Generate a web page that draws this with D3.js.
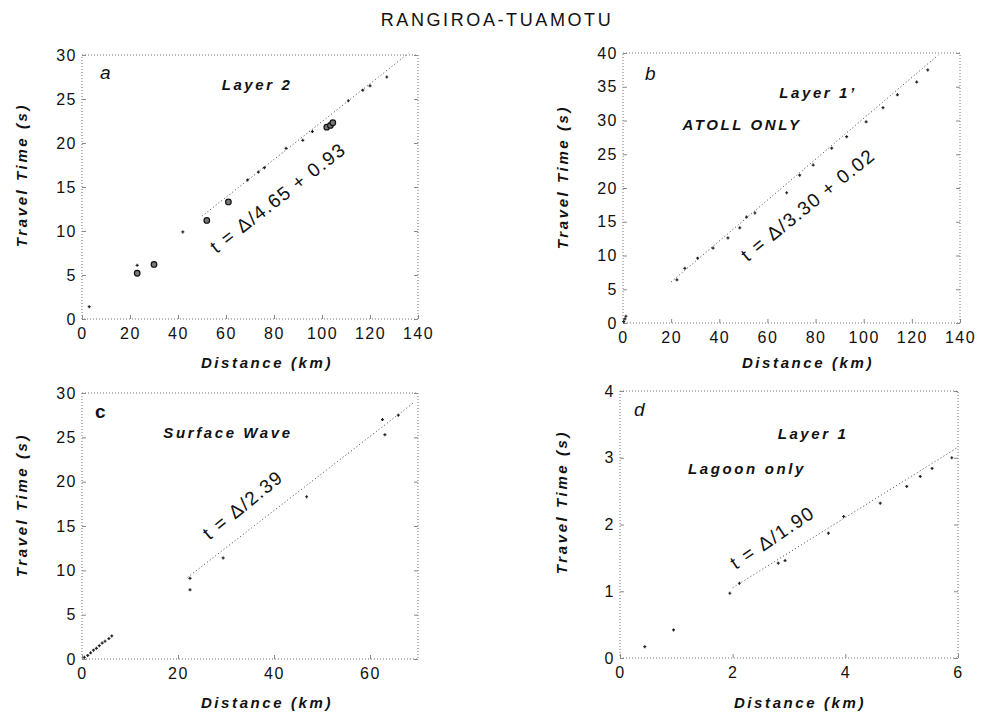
<!DOCTYPE html>
<html>
<head>
<meta charset="utf-8">
<script src="https://cdn.jsdelivr.net/npm/d3@7"></script>
<style>
  body { margin: 0; background: #fff; }
  svg text { font-family: "Liberation Sans", Arial, sans-serif; fill: #111; }
  .tick text { font-size: 16px; letter-spacing: 1.5px; }
  .ttl { font-weight: bold; font-style: italic; font-size: 15px; letter-spacing: 2.6px; }
  .lbl { font-weight: bold; font-style: italic; font-size: 15px; letter-spacing: 2.6px; }
  .eq { font-size: 19px; letter-spacing: 1.5px; }
</style>
</head>
<body>
<div id="graph"></div>
<script>
"use strict";

// panel a : Layer 2
const aDist = [3, 23, 23, 30, 42, 52, 61, 69, 73.5, 76, 85, 92, 96, 102, 103.5, 104.5, 111, 117, 120, 127];
const aTime = [1.4, 5.2, 6.1, 6.2, 9.9, 11.2, 13.3, 15.8, 16.7, 17.2, 19.4, 20.3, 21.3, 21.8, 22.0, 22.3, 24.8, 26.0, 26.5, 27.5];
const aMark = ["+", "o", "+", "o", "+", "o", "o", "+", "+", "+", "+", "+", "+", "o", "o", "o", "+", "+", "+", "+"];

// panel b : Layer 1' atoll only
const bDist = [0.3, 0.8, 1.2, 22.4, 25.7, 31, 37.4, 43.6, 48.5, 51.3, 54.8, 68, 73.4, 79, 86.7, 92.9, 101, 108, 114, 122, 126.6];
const bTime = [0.2, 0.6, 1.0, 6.4, 8.1, 9.6, 11.1, 12.6, 14.1, 15.7, 16.3, 19.3, 21.9, 23.4, 25.9, 27.6, 29.8, 31.9, 33.8, 35.7, 37.5];

// panel c : surface wave
const cDist = [0.5, 1.2, 1.8, 2.4, 3.0, 3.6, 4.2, 4.8, 5.6, 6.2, 22.5, 22.5, 29.4, 46.8, 62.6, 63.1, 65.9];
const cTime = [0.2, 0.4, 0.7, 1.0, 1.2, 1.5, 1.8, 2.0, 2.3, 2.6, 7.8, 9.1, 11.4, 18.3, 27.0, 25.3, 27.5];

// panel d : Layer 1 lagoon only
const dDist = [0.44, 0.95, 1.95, 2.12, 2.81, 2.93, 3.70, 3.97, 4.62, 5.09, 5.33, 5.54, 5.89];
const dTime = [0.17, 0.42, 0.97, 1.12, 1.42, 1.46, 1.87, 2.12, 2.32, 2.57, 2.72, 2.84, 3.0];

const xTicksA = [0, 20, 40, 60, 80, 100, 120, 140];
const yTicksA = [0, 5, 10, 15, 20, 25, 30];
const yTicksB = [0, 5, 10, 15, 20, 25, 30, 35, 40];
const xTicksC = [0, 20, 40, 60];
const xTicksD = [0, 2, 4, 6];
const yTicksD = [0, 1, 2, 3, 4];

(function() {
    const W = 994, H = 712;

    window.addEventListener("load", init);

    function init() {
        let svg = d3.select("#graph")
                    .append("svg")
                        .attr("width", W)
                        .attr("height", H);

        svg.append("text")
            .attr("x", 497).attr("y", 26)
            .attr("text-anchor", "middle")
            .style("font-size", "18px")
            .style("letter-spacing", "2.6px")
            .text("RANGIROA-TUAMOTU");

        panel(svg, {
            x0: 82, x1: 418, y0: 319, y1: 55,
            xDom: [0, 140], yDom: [0, 30], xTicks: xTicksA, yTicks: yTicksA,
            dist: aDist, time: aTime, mark: aMark,
            fit: [50, 136], vel: 4.65, icpt: 0.93,
            letter: "a", lx: 100, ly: 79,
            notes: [{t: "Layer 2", x: 257, y: 90}],
            eq: "t = \u0394/4.65 + 0.93", ex: 282, ey: 203, ang: -38,
            xt: [267, 368], yt: [22, 175]
        });
        panel(svg, {
            x0: 623, x1: 960, y0: 323, y1: 53,
            xDom: [0, 140], yDom: [0, 40], xTicks: xTicksA, yTicks: yTicksB,
            dist: bDist, time: bTime,
            fit: [20, 131], vel: 3.30, icpt: 0.02,
            letter: "b", lx: 645, ly: 80,
            notes: [{t: "Layer 1\u2019", x: 818, y: 98}, {t: "ATOLL ONLY", x: 742, y: 130}],
            eq: "t = \u0394/3.30 + 0.02", ex: 812, ey: 210, ang: -39,
            xt: [808, 368], yt: [563, 177]
        });
        panel(svg, {
            x0: 82, x1: 418, y0: 659, y1: 393,
            xDom: [0, 70], yDom: [0, 30], xTicks: xTicksC, yTicks: yTicksA,
            dist: cDist, time: cTime,
            fit: [22, 69], vel: 2.39, icpt: 0,
            letter: "c", lx: 95, ly: 418, upright: true,
            notes: [{t: "Surface Wave", x: 228, y: 438}],
            eq: "t = \u0394/2.39", ex: 247, ey: 510, ang: -39,
            xt: [267, 708], yt: [22, 505]
        });
        panel(svg, {
            x0: 620, x1: 958, y0: 658, y1: 391,
            xDom: [0, 6], yDom: [0, 4], xTicks: xTicksD, yTicks: yTicksD,
            dist: dDist, time: dTime,
            fit: [2, 6], vel: 1.90, icpt: 0,
            letter: "d", lx: 634, ly: 416,
            notes: [{t: "Layer 1", x: 813, y: 439}, {t: "Lagoon only", x: 747, y: 474}],
            eq: "t = \u0394/1.90", ex: 776, ey: 543, ang: -34,
            xt: [800, 708], yt: [562, 502]
        });
    }

    function panel(svg, p) {
        let x = d3.scaleLinear().domain(p.xDom).range([p.x0, p.x1]);
        let y = d3.scaleLinear().domain(p.yDom).range([p.y0, p.y1]);
        let fmt = d3.format("d");
        let g = svg.append("g");

        // dotted frame, like the scanned original
        g.append("rect")
            .attr("x", p.x0).attr("y", p.y1)
            .attr("width", p.x1 - p.x0).attr("height", p.y0 - p.y1)
            .attr("fill", "none")
            .attr("stroke", "#777")
            .attr("stroke-width", 1)
            .attr("stroke-dasharray", "1,2");

        let ax = g.append("g")
            .attr("transform", "translate(0," + p.y0 + ")")
            .call(d3.axisBottom(x).tickValues(p.xTicks).tickFormat(fmt).tickSize(-4).tickPadding(9));
        let ay = g.append("g")
            .attr("transform", "translate(" + p.x0 + ",0)")
            .call(d3.axisLeft(y).tickValues(p.yTicks).tickFormat(fmt).tickSize(-4).tickPadding(5));
        let ar = g.append("g")
            .attr("transform", "translate(" + p.x1 + ",0)")
            .call(d3.axisRight(y).tickValues(p.yTicks).tickSize(-4).tickFormat(""));
        [ax, ay, ar].forEach(function(a) {
            a.select(".domain").remove();
            a.selectAll(".tick line").attr("stroke", "#888");
        });

        // fitted line
        g.append("line")
            .attr("x1", x(p.fit[0])).attr("y1", y(p.fit[0] / p.vel + p.icpt))
            .attr("x2", x(p.fit[1])).attr("y2", y(p.fit[1] / p.vel + p.icpt))
            .attr("stroke", "#444")
            .attr("stroke-width", 1)
            .attr("stroke-dasharray", "1,2.5");

        // picks
        let pts = p.dist.map((d, i) => ({d: d, t: p.time[i], m: p.mark ? p.mark[i] : "+"}));
        g.selectAll("circle.pk")
            .data(pts.filter(q => q.m === "o"))
            .enter()
            .append("circle")
                .attr("class", "pk")
                .attr("cx", q => x(q.d))
                .attr("cy", q => y(q.t))
                .attr("r", 2.8)
                .attr("fill", "#777")
                .attr("stroke", "#111")
                .attr("stroke-width", 1.2);
        g.selectAll("path.pk")
            .data(pts.filter(q => q.m === "+"))
            .enter()
            .append("path")
                .attr("class", "pk")
                .attr("transform", q => "translate(" + x(q.d) + "," + y(q.t) + ")")
                .attr("d", "M-1.5,0H1.5M0,-1.5V1.5")
                .attr("stroke", "#222")
                .attr("stroke-width", 1.2);

        // panel letter and notes
        g.append("text")
            .attr("x", p.lx).attr("y", p.ly)
            .style("font-size", "19px")
            .style("font-weight", p.upright ? "bold" : "normal")
            .style("font-style", p.upright ? "normal" : "italic")
            .text(p.letter);
        p.notes.forEach(function(n) {
            g.append("text")
                .attr("class", "lbl")
                .attr("x", n.x).attr("y", n.y)
                .attr("text-anchor", "middle")
                .text(n.t);
        });
        g.append("text")
            .attr("class", "eq")
            .attr("text-anchor", "middle")
            .attr("transform", "translate(" + p.ex + "," + p.ey + ") rotate(" + p.ang + ")")
            .text(p.eq);

        // axis titles
        g.append("text")
            .attr("class", "ttl")
            .attr("x", p.xt[0]).attr("y", p.xt[1])
            .attr("text-anchor", "middle")
            .text("Distance (km)");
        g.append("text")
            .attr("class", "ttl")
            .attr("text-anchor", "middle")
            .attr("transform", "translate(" + (p.yt[0] + 5) + "," + p.yt[1] + ") rotate(-90)")
            .text("Travel Time (s)");
    }
})();
</script>
</body>
</html>
